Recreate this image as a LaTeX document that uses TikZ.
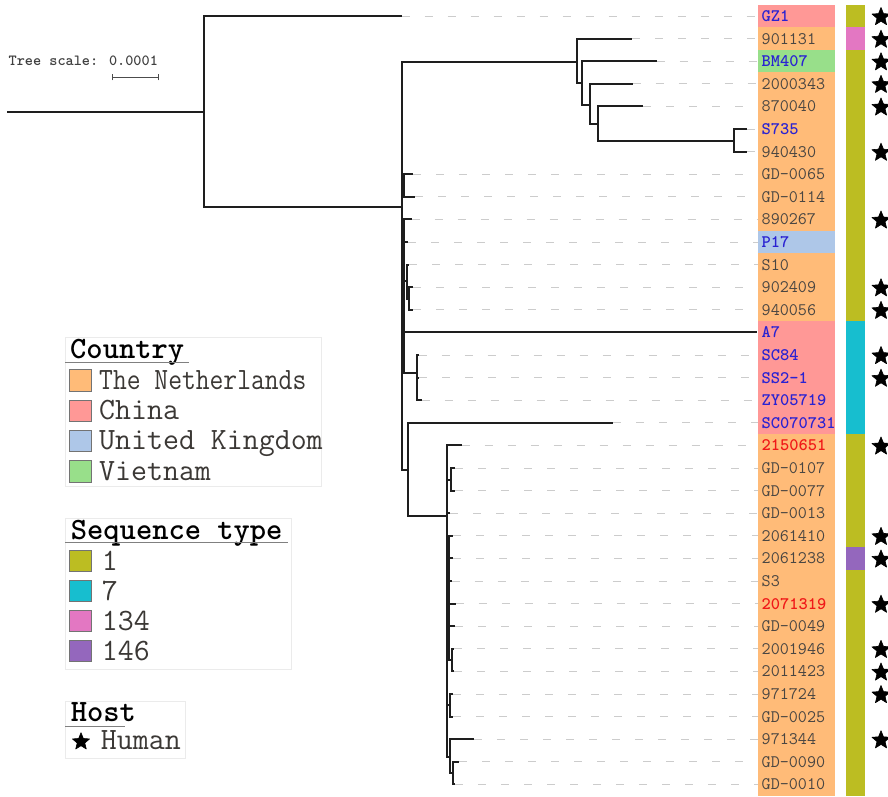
\documentclass[tikz,border=0pt]{standalone}
\usepackage{fontspec}
\usepackage{graphicx}
\usetikzlibrary{shapes.geometric}
\definecolor{cNL}{HTML}{FFBB78}
\definecolor{cCN}{HTML}{FF9896}
\definecolor{cUK}{HTML}{AEC7E8}
\definecolor{cVN}{HTML}{98DF8A}
\definecolor{sOL}{HTML}{BCBD22}
\definecolor{sCY}{HTML}{17BECF}
\definecolor{sPK}{HTML}{E377C2}
\definecolor{sPU}{HTML}{9467BD}
\definecolor{labgray}{HTML}{4A4642}
\definecolor{labblue}{HTML}{2A22D2}
\definecolor{labred}{HTML}{F01818}
\definecolor{treecol}{HTML}{1E1E1E}
\definecolor{leadcol}{HTML}{CCCCCC}
\definecolor{framecol}{HTML}{EBEBEB}
\begin{document}
\begin{tikzpicture}[x=1pt,y=-1pt,
  branch/.style={draw=treecol,line width=2pt},
  leader/.style={draw=leadcol,line width=1pt,dash pattern=on 8pt off 15pt},
  cbox/.style={rectangle,inner sep=0pt,minimum width=77pt,minimum height=23pt,anchor=west,draw=none},
  leaf/.style={anchor=base west,inner sep=0pt,font=\fontsize{17.6}{17.6}\selectfont\ttfamily,text=labgray},
  blab/.style={leaf,font=\fontsize{17.6}{17.6}\selectfont\ttfamily\bfseries,text=labblue},
  rlab/.style={blab,text=labred},
  hoststar/.style={star,star points=5,star point ratio=2.25,fill=black,draw=black,line width=0.6pt,line join=round,minimum size=19pt,inner sep=0pt},
  legframe/.style={draw=framecol,line width=0.8pt,fill=white},
  legtitle/.style={anchor=base west,inner sep=0pt,font=\fontsize{31}{31}\selectfont\ttfamily\bfseries,text=black},
  legtext/.style={anchor=base west,inner sep=0pt,font=\fontsize{31}{31}\selectfont\ttfamily,text=labgray!80!black},
  legsq/.style={rectangle,draw=black!55,line width=0.8pt,minimum width=21.4pt,minimum height=21.4pt,inner sep=0pt,anchor=north west},
  legline/.style={draw=black!50,line width=1.2pt}
]
\useasboundingbox (0,0) rectangle (888,796);
\clip (0,0) rectangle (888,796);

% country boxes and labels
\foreach \i/\t/\c/\s in {0/GZ1/cCN/blab, 1/901131/cNL/leaf, 2/BM407/cVN/blab, 3/2000343/cNL/leaf,
  4/870040/cNL/leaf, 5/S735/cNL/blab, 6/940430/cNL/leaf, 7/GD-0065/cNL/leaf, 8/GD-0114/cNL/leaf,
  9/890267/cNL/leaf, 10/P17/cUK/blab, 11/S10/cNL/leaf, 12/902409/cNL/leaf, 13/940056/cNL/leaf,
  14/A7/cCN/blab, 15/SC84/cCN/blab, 16/SS2-1/cCN/blab, 17/ZY05719/cCN/blab, 18/SC070731/cCN/blab,
  19/2150651/cNL/rlab, 20/GD-0107/cNL/leaf, 21/GD-0077/cNL/leaf, 22/GD-0013/cNL/leaf,
  23/2061410/cNL/leaf, 24/2061238/cNL/leaf, 25/S3/cNL/leaf, 26/2071319/cNL/rlab,
  27/GD-0049/cNL/leaf, 28/2001946/cNL/leaf, 29/2011423/cNL/leaf, 30/971724/cNL/leaf,
  31/GD-0025/cNL/leaf, 32/971344/cNL/leaf, 33/GD-0090/cNL/leaf, 34/GD-0010/cNL/leaf}
{
  \node[cbox,fill=\c] (box\i) at (758,{16+22.6*\i}) {};
  \node[\s] (lab\i) at (761.5,{16+22.6*\i+5.4}) {\t};
}

% sequence type strip
\fill[sOL] (845.7,4.7) rectangle (865.3,27.4);
\fill[sPK] (845.7,27.3) rectangle (865.3,50.0);
\fill[sOL] (845.7,49.9) rectangle (865.3,321.2);
\fill[sCY] (845.7,321.1) rectangle (865.3,434.2);
\fill[sOL] (845.7,434.1) rectangle (865.3,547.2);
\fill[sPU] (845.7,547.1) rectangle (865.3,569.8);
\fill[sOL] (845.7,569.7) rectangle (865.3,796);

% host stars
\foreach \i in {0,1,2,3,4,6,9,12,13,15,16,19,23,24,26,28,29,30,32}
  \node[hoststar] (star\i) at (881,{16+22.6*\i+1}) {};

% tips
\foreach \i/\x in {0/401.7, 1/632.3, 2/656.7, 3/632.7, 4/643.3, 5/746.7, 6/746.7, 7/413, 8/415,
  9/411.7, 10/408, 11/409, 12/413, 13/413, 14/757, 15/418.5, 16/419, 17/421.7, 18/613.3,
  19/461.7, 20/455.3, 21/455.3, 22/450, 23/453.3, 24/453.3, 25/451.7, 26/455.7, 27/455,
  28/454.3, 29/454.3, 30/453.3, 31/453.3, 32/474.3, 33/459.3, 34/455}
  \coordinate (t\i) at (\x,{16+22.6*\i});

% leader lines
\foreach \i in {0,...,13,15,16,...,34}
  \draw[leader] (t\i) -- (box\i.west);

% internal nodes
\coordinate (rs) at (7,112);
\coordinate (r) at (204,112);
\coordinate (n1) at (402,207);
\coordinate (T1) at (576.7,61.7);
\coordinate (T2) at (582,83.3);
\coordinate (T3) at (590,105.3);
\coordinate (T4) at (598.3,124.3);
\coordinate (T5) at (734.3,141);
\coordinate (g1) at (404.3,186);
\coordinate (n2) at (404,290);
\coordinate (s1) at (406.7,281);
\coordinate (p1) at (409.3,298.5);
\coordinate (sc) at (416.7,373.3);
\coordinate (b1) at (407.7,470);
\coordinate (L) at (446.7,516);
\coordinate (gp) at (450.7,480);
\coordinate (L2) at (448.5,580);
\coordinate (q0) at (451.7,660);
\coordinate (q1) at (450,705.3);
\coordinate (L3) at (450,757);
\coordinate (q2) at (453.3,773);

\draw[branch] (rs) -- (r);
\foreach \p/\c in {r/t0, r/n1, n1/T1, n1/g1, n1/n2, n1/b1, T1/t1, T1/T2, T2/t2, T2/T3,
  T3/t3, T3/T4, T4/t4, T4/T5, T5/t5, T5/t6, g1/t7, g1/t8, n2/t9, n2/t10, n2/s1, n2/t14,
  n2/sc, s1/t11, s1/p1, p1/t12, p1/t13, sc/t15, sc/t16, sc/t17, b1/t18, b1/L, L/t19,
  L/gp, L/t22, L/L2, L/q1, L/L3, gp/t20, gp/t21, L2/t23, L2/t24, L2/t25, L2/t26, L2/t27,
  L2/q0, q0/t28, q0/t29, q1/t30, q1/t31, L3/t32, L3/q2, q2/t33, q2/t34}
  \draw[branch] (\p) |- (\c);

% tree scale
\node[anchor=base west,inner sep=0pt,font=\fontsize{15.5}{15.5}\selectfont\ttfamily\bfseries,text=black!75] (scaletxt) at (8.5,65) {Tree scale: 0.0001};
\coordinate (sbA) at (112.3,77.3);
\coordinate (sbB) at (158,77.3);
\draw[black!70,line width=1pt] (sbA) -- (sbB);
\draw[black!70,line width=1pt] ([yshift=-3pt]sbA) -- ([yshift=3pt]sbA);
\draw[black!70,line width=1pt] ([yshift=-3pt]sbB) -- ([yshift=3pt]sbB);

% legend: country
\draw[legframe] (65,337.3) rectangle (321.7,486.7);
\node[legtitle] (ctitle) at (70,358.3) {Country};
\draw[legline] (65,362.7) -- (189.3,362.7);
\node[legsq,fill=cNL] (cq1) at (69.3,369.3) {};
\node[legsq,fill=cCN] (cq2) at (69.3,399.6) {};
\node[legsq,fill=cUK] (cq3) at (69.3,429.9) {};
\node[legsq,fill=cVN] (cq4) at (69.3,460.2) {};
\node[legtext] (ct1) at (99,389.3) {\scalebox{0.865}[1]{The Netherlands}};
\node[legtext] (ct2) at (99,419.6) {China};
\node[legtext] (ct3) at (99,449.9) {United Kingdom};
\node[legtext] (ct4) at (99,480.2) {Vietnam};

% legend: sequence type
\draw[legframe] (65,518.3) rectangle (291.7,669.3);
\node[legtitle] (stitle) at (70.7,539.3) {Sequence type};
\draw[legline] (65,542.7) -- (288.3,542.7);
\node[legsq,fill=sOL] (sq1) at (69.3,550) {};
\node[legsq,fill=sCY] (sq2) at (69.3,580) {};
\node[legsq,fill=sPK] (sq3) at (69.3,610) {};
\node[legsq,fill=sPU] (sq4) at (69.3,640) {};
\node[legtext] (st1) at (101.7,570) {1};
\node[legtext] (st2) at (101.7,600) {7};
\node[legtext] (st3) at (101.7,630) {134};
\node[legtext] (st4) at (101.7,660) {146};

% legend: host
\draw[legframe] (65,701.7) rectangle (185,758.3);
\node[legtitle] (htitle) at (70.7,721.7) {Host};
\draw[legline] (65,726.7) -- (125,726.7);
\node[hoststar,minimum size=18pt] (hstar) at (81,741.7) {};
\node[legtext] (ht1) at (100.7,749.3) {Human};
\end{tikzpicture}
\end{document}
